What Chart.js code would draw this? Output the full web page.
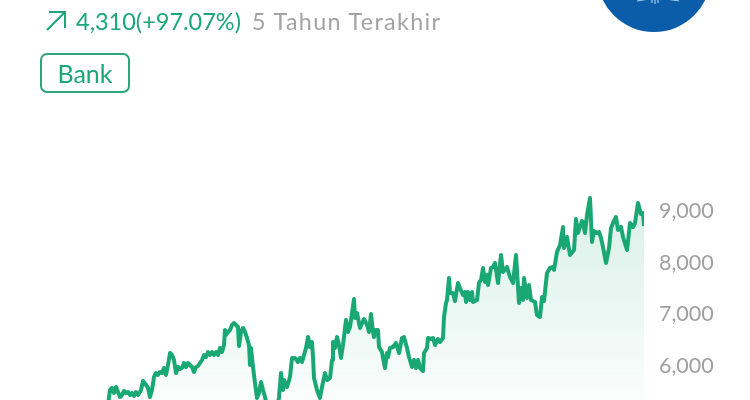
<!DOCTYPE html>
<html>
<head>
  <title>Bank</title>
  <script src="https://cdn.jsdelivr.net/npm/chart.js"></script>
  <style>
    html, body { margin: 0; padding: 0; background: #fff; width: 750px; height: 400px; overflow: hidden; }
    body { font-family: Lato, "Open Sans", sans-serif; position: relative; }
    #chartBox { position: absolute; left: 0; top: 0; width: 750px; height: 400px; }
    .arrow { position: absolute; left: 44px; top: 9px; }
    .change { position: absolute; left: 76px; top: 6px; font-size: 23.5px; line-height: 30px; color: #1ba678; white-space: nowrap; }
    .period { position: absolute; left: 252px; top: 6px; font-size: 23.3px; line-height: 30px; color: #a3a3a3; letter-spacing: 1.35px; white-space: nowrap; }
    .tag { position: absolute; left: 40px; top: 53px; width: 86px; height: 36px; border: 2px solid #2aa57c; border-radius: 7px;
           font-size: 25px; line-height: 36px; text-align: center; color: #1ba678; }
    .logo { position: absolute; left: 597px; top: -82px; width: 114px; height: 114px; border-radius: 50%; background: #0c5da9; }
  </style>
</head>
<body>
  <div id="chartBox"><canvas id="priceChart" width="750" height="400"></canvas></div>

  <svg class="arrow" width="24" height="24" viewBox="0 0 24 24">
    <path d="M3 21 L21 3 M5 3 H21 V19" fill="none" stroke="#1ba678" stroke-width="2"/>
  </svg>
  <div class="change">4,310(+97.07%)</div>
  <div class="period">5 Tahun Terakhir</div>
  <div class="tag">Bank</div>

  <div class="logo">
    <svg width="114" height="114" viewBox="0 0 114 114">
      <path d="M40 83 L52 81 M70 81 L82 83 M55 81 V85 M58 81 V86 M61 81 V85" stroke="#a9cbe8" stroke-width="1.2" fill="none"/>
    </svg>
  </div>

  <script>
    // trading day counted from the start of the 5 year window
    const days = [
      216,220,224,228,232,236,240,244,248,252,
      256,260,264,268,272,276,280,282,286,292,
      296,300,304,308,312,316,320,324,328,332,
      336,340,344,348,352,356,360,364,368,372,
      376,380,384,388,392,396,400,404,408,412,
      416,420,424,428,432,436,440,444,448,450,
      452,456,460,464,468,472,476,478,482,486,
      490,494,498,500,502,506,510,514,518,522,
      526,530,534,544,556,558,562,566,568,574,
      580,584,590,596,600,604,608,612,616,620,
      624,626,628,634,640,644,650,654,660,664,
      666,670,674,678,682,686,692,696,700,704,
      708,710,714,720,728,734,738,742,746,748,
      752,756,758,764,766,770,774,776,780,786,
      792,798,804,808,814,818,824,828,832,836,
      840,846,848,854,856,862,866,870,876,880,
      886,888,892,894,898,900,906,910,916,920,
      926,930,932,936,940,944,946,954,958,962,
      966,970,974,976,982,986,990,996,1002,1006,
      1014,1020,1026,1032,1038,1042,1046,1048,1054,1058,
      1062,1070,1074,1080,1084,1088,1094,1100,1106,1108,
      1114,1120,1126,1128,1134,1140,1148,1152,1156,1164,
      1166,1170,1174,1180,1184,1188,1194,1198,1202,1206,
      1212,1218,1222,1226,1232,1236,1242,1246,1254,1260,
      1266,1270,1276,1282,1286,1288
    ];

    // closing price
    const prices = [
      5240,5531,5570,5473,5589,5492,5395,5434,5512,5473,
      5492,5434,5473,5415,5492,5434,5492,5531,5706,5628,
      5570,5395,5531,5783,5860,5822,5880,5860,5957,5822,
      6016,6248,6209,6112,5860,5977,5938,5957,6054,5977,
      6054,6016,5977,5880,5977,5996,6054,6112,6209,6170,
      6267,6209,6267,6209,6267,6209,6345,6267,6403,6694,
      6597,6655,6694,6791,6829,6791,6752,6384,6655,6733,
      6655,6539,6403,6016,6345,5977,5667,5376,5473,5686,
      5531,5395,5240,4950,5240,5395,5860,5531,5725,5589,
      5783,6151,6151,6074,6151,6074,6209,6345,6558,6364,
      6461,6170,5764,5531,5376,5589,5860,5725,5764,6112,
      6461,6345,6558,6403,6151,6403,6888,6655,6752,7023,
      7295,6926,7023,6733,6907,6791,6655,7004,6655,6558,
      6694,6694,6364,6267,6151,5957,6248,6170,6345,6364,
      6442,6248,6539,6558,6345,6170,5977,6112,5957,6112,
      5957,5899,6248,6345,6539,6519,6539,6403,6519,6461,
      6539,6946,7217,7275,7702,7411,7411,7256,7605,7508,
      7372,7430,7236,7430,7275,7430,7236,7275,7605,7663,
      7895,7624,7760,7566,7895,7915,7992,7605,8147,7818,
      7915,7721,7605,8147,7217,7508,7275,7702,7314,7566,
      7275,7236,6984,6946,7333,7256,7798,7895,7915,7857,
      8205,8341,8690,8283,8496,8147,8244,8845,8574,8806,
      8767,8574,8922,9252,8399,8612,8574,8593,8477,8302,
      7992,8283,8671,8767,8884,8632,8690,8496,8244,8767,
      8690,8767,9155,8942,8961,8709
    ];

    const yTicks = [6000, 7000, 8000, 9000];

    const points = days.map((d, i) => ({ x: d, y: prices[i] }));

    function areaFill(context) {
      const chart = context.chart;
      if (!chart.chartArea) return 'rgba(26,168,116,0.1)';
      const yScale = chart.scales.y;
      const g = chart.ctx.createLinearGradient(0, yScale.getPixelForValue(9300), 0, yScale.getPixelForValue(4700));
      g.addColorStop(0, 'rgba(26,168,116,0.17)');
      g.addColorStop(1, 'rgba(26,168,116,0)');
      return g;
    }

    new Chart(document.getElementById('priceChart'), {
      type: 'line',
      data: {
        datasets: [{
          data: points,
          borderColor: '#19a873',
          borderWidth: 4,
          borderJoinStyle: 'round',
          pointRadius: 0,
          tension: 0,
          fill: 'start',
          backgroundColor: areaFill
        }]
      },
      options: {
        responsive: false,
        animation: false,
        layout: { padding: 0 },
        plugins: { legend: { display: false }, tooltip: { enabled: false } },
        scales: {
          x: { type: 'linear', display: false, min: 0, max: 1288 },
          y: {
            position: 'right',
            min: 5337,
            max: 13089,
            grid: { display: false, drawTicks: false },
            border: { display: false },
            afterBuildTicks: (scale) => { scale.ticks = yTicks.map(v => ({ value: v })); },
            afterFit: (scale) => { scale.width = 106; scale.paddingTop = 0; scale.paddingBottom = 0; },
            ticks: {
              padding: 15,
              color: '#a0a0a0',
              font: { family: 'Lato', size: 21.5 },
              callback: (v) => v.toLocaleString('en-US')
            }
          }
        }
      }
    });
  </script>
</body>
</html>
